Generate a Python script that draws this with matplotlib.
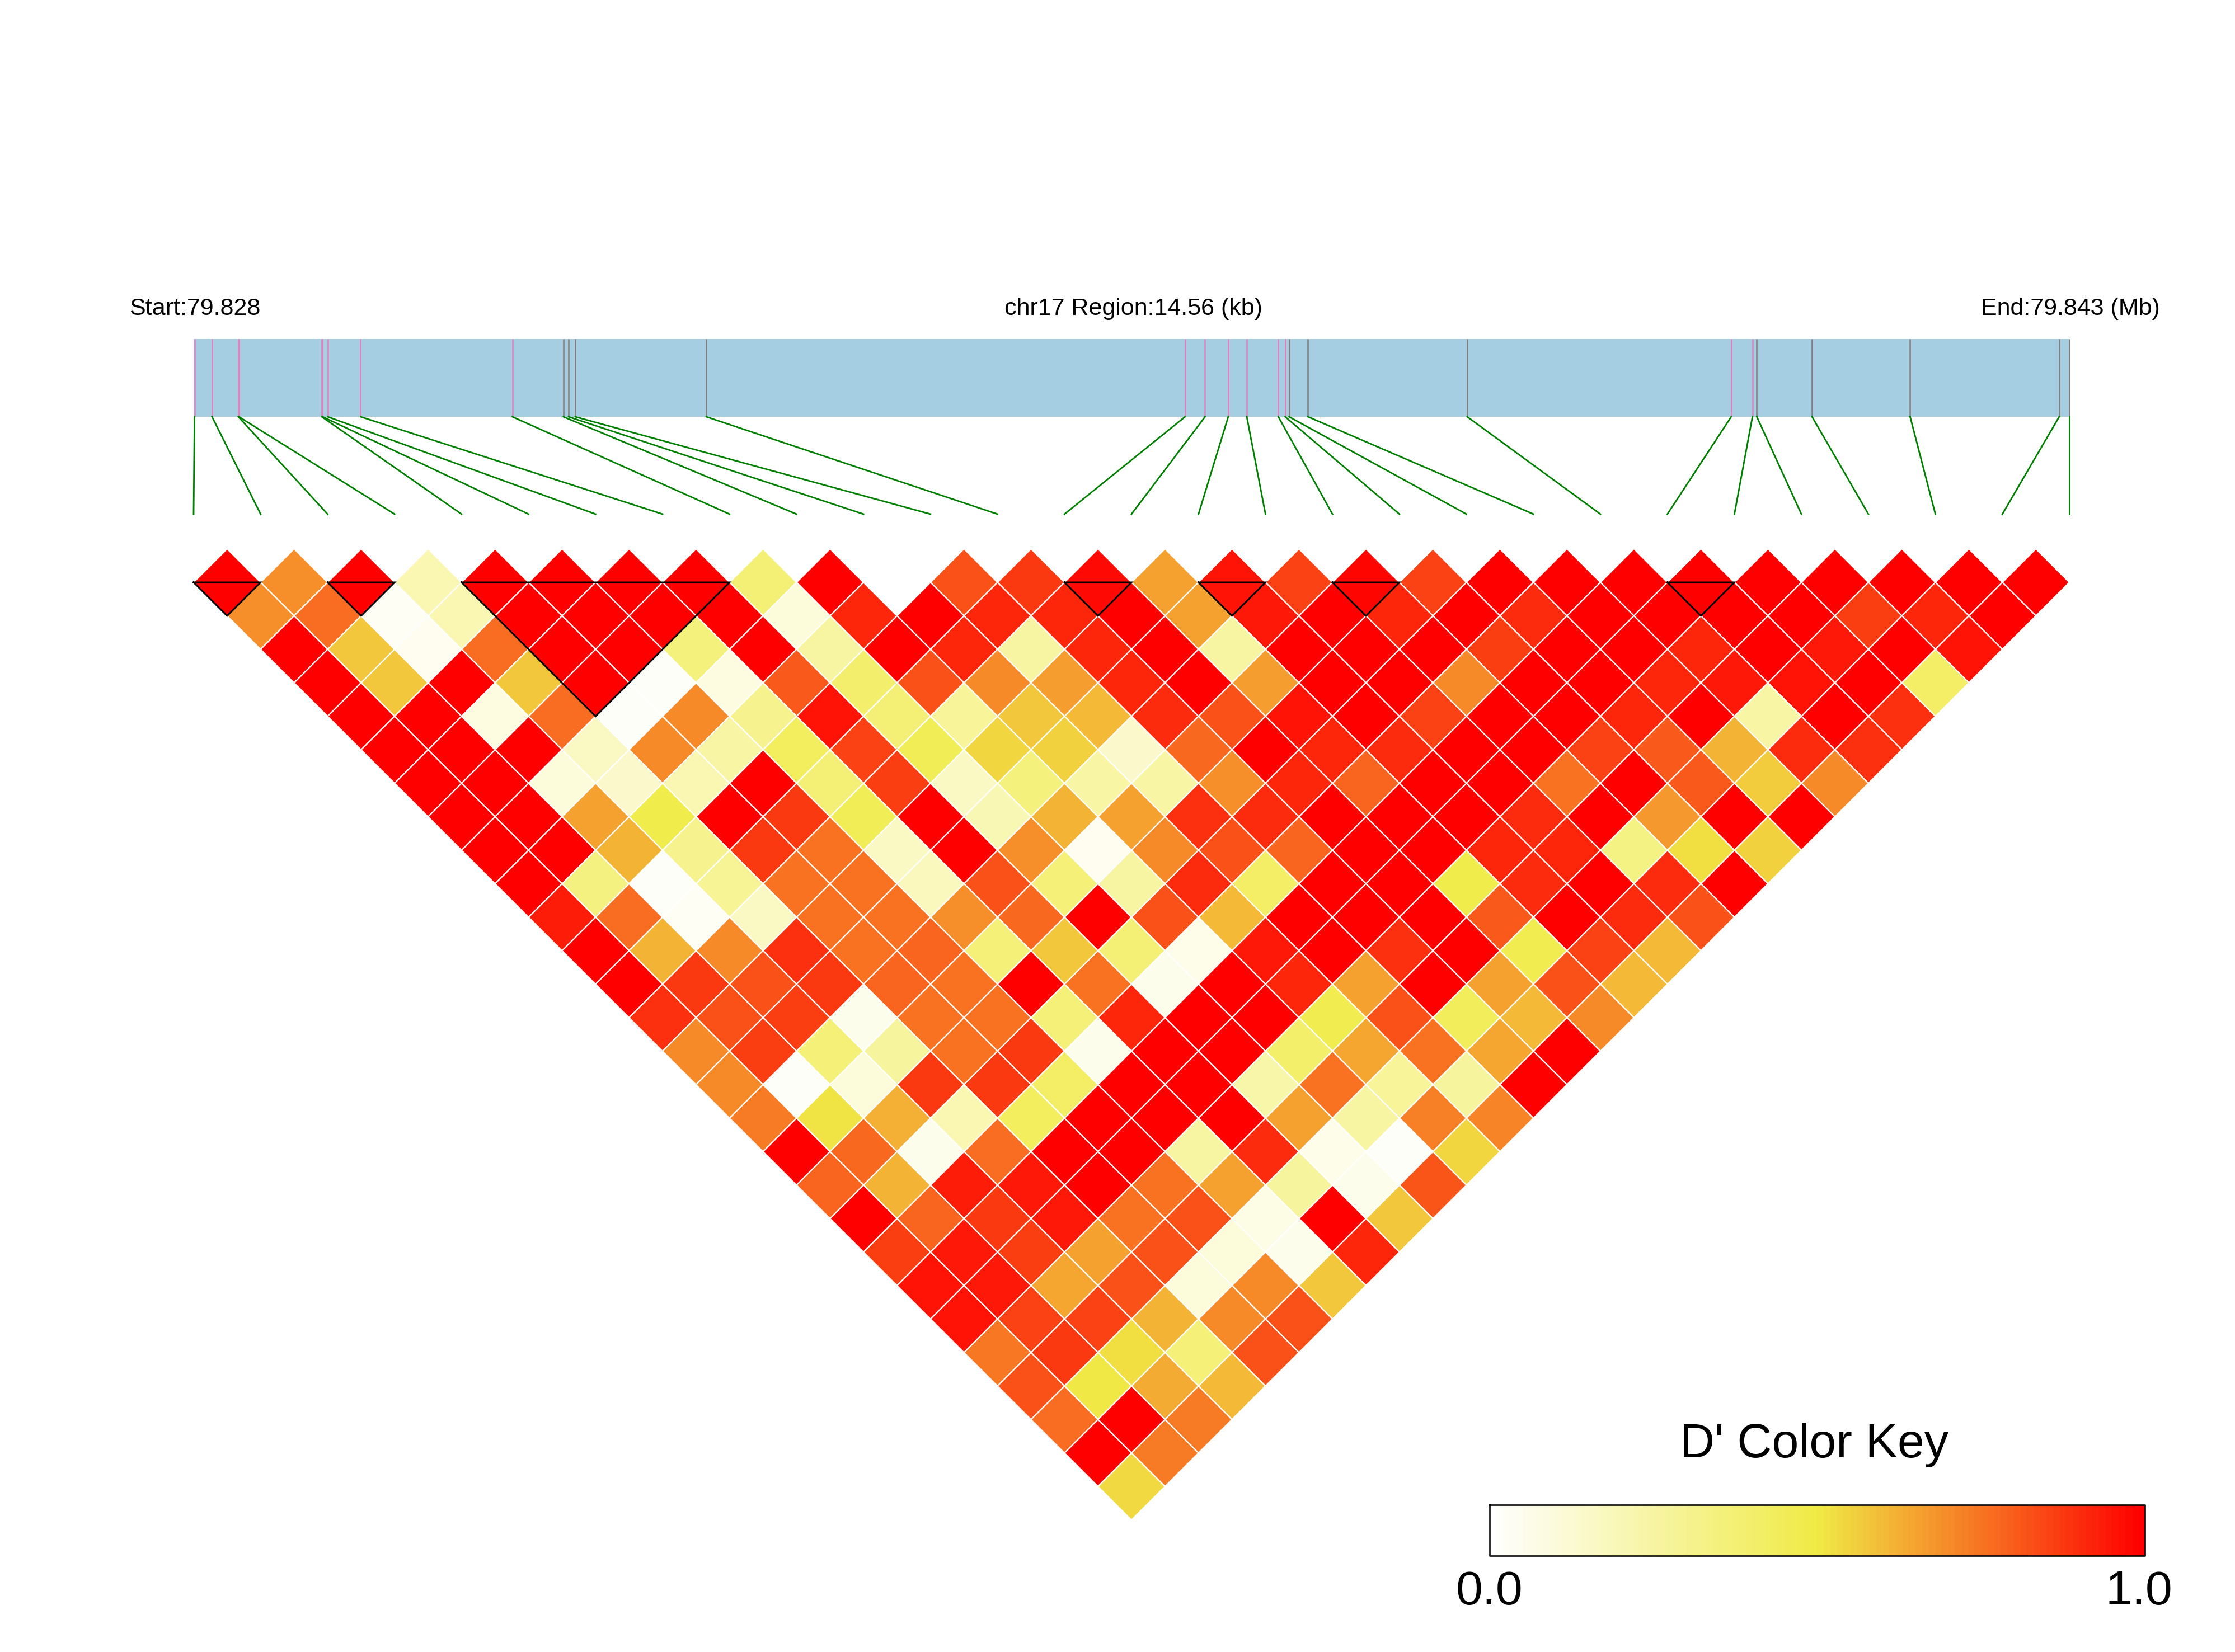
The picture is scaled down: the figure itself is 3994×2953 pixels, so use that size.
import numpy as np
import matplotlib
matplotlib.use('Agg')
import matplotlib.pyplot as plt
from matplotlib.collections import PolyCollection
from matplotlib.colors import LinearSegmentedColormap

plt.rcParams['font.family'] = ['Liberation Sans', 'DejaVu Sans']

# SNP positions along the region (kb from start)
snp_kb = [0.007, 0.143, 0.347, 0.352, 0.995, 1.001, 1.041, 1.296, 2.474, 2.870, 2.910, 2.962, 3.979,
          7.696, 7.851, 8.031, 8.175, 8.420, 8.473, 8.503, 8.650, 9.886,
          11.935, 12.100, 12.134, 12.563, 13.324, 14.481, 14.560]
# 1 = pink tick, 0 = grey tick
snp_pink = [1, 1, 1, 1, 1, 1, 1, 1, 1, 0, 0, 0, 0,
            1, 1, 1, 1, 1, 1, 0, 0, 0,
            1, 1, 0, 0, 0, 0, 0]

# D' values, row_01 is the top row of the triangle (neighbouring SNPs)
row_01 = [1, .69, 1, .21, 1, 1, 1, 1, .37, 1, 0, .825, .87, .97, .65, .955, .85, .985, .85, 1, 1, 1, 1, 1, 1, 1, 1, 1]
row_02 = [.69, .765, .03, .21, 1, 1, 1, 1, .105, .91, 1, .91, .91, 1, .655, .94, 1, .91, 1, .90, 1, 1, 1, 1, .86, .91, 1]
row_03 = [1, .58, .04, .76, 1, 1, .35, 1, .25, 1, .91, .25, .91, 1, .25, 1, 1, 1, .86, 1, 1, .91, 1, .94, 1, .955]
row_04 = [1, .58, 1, .58, 1, .025, .08, .80, .39, .82, .706, .66, .91, 1, .66, 1, 1, .706, 1, 1, .91, .94, .955, 1, .41]
row_05 = [1, 1, .08, .765, .025, .706, .3, .955, .37, .27, .58, .6, .90, .82, .955, 1, .85, 1, 1, .91, 1, .24, 1, .89]
row_06 = [1, 1, 1, .16, .706, .24, .43, .85, .45, .54, .55, .145, .77, 1, .91, .90, 1, 1, .85, .80, .61, .90, .89]
row_07 = [1, 1, .1, .145, .21, 1, .37, .86, .16, .35, .24, .24, .69, .91, .787, 1, 1, .75, 1, .80, .56, .706]
row_08 = [1, 1, .655, .48, 1, .87, .45, 1, .2, .61, .65, .89, .90, 1, 1, 1, .90, 1, .67, 1, 1]
row_09 = [1, 1, .61, .3, .87, .75, .16, 1, .69, .04, .706, .82, .78, 1, 1, .91, .91, .33, .52, .55]
row_10 = [1, .34, .02, .29, .75, .75, .18, .82, .36, .25, .90, .41, 1, 1, .48, .90, 1, .90, 1]
row_11 = [.93, .76, .03, .16, .75, .75, .69, .77, 1, .825, .605, 1, 1, 1, .80, 1, .90, .825]
row_12 = [1, .61, .706, .89, .75, .787, .36, .58, .37, .065, .94, 1, .89, 1, .47, .85, .6]
row_13 = [1, .87, .825, .87, .787, .75, 1, .75, .055, 1, .91, .655, 1, .65, .825, .6]
row_14 = [.89, .825, .86, .05, .75, .75, .36, .91, 1, 1, .47, .825, .44, .6, .706]
row_15 = [.706, .86, .36, .26, .75, .87, .05, 1, 1, .4, .64, .75, .64, 1]
row_16 = [.706, .025, .1, .87, .87, .41, 1, 1, .23, .75, .27, .26, 1]
row_17 = [.735, .51, .62, .21, .43, 1, 1, 1, .655, .25, .725, .715]
row_18 = [1, .77, .055, .76, 1, 1, .25, .90, .065, .025, .54]
row_19 = [.787, .61, .93, .94, 1, .75, .655, .26, .055, .81]
row_20 = [1, .787, .87, .94, .75, .825, .07, 1, .58]
row_21 = [.86, .94, .86, .65, .825, .105, .05, .91]
row_22 = [.955, .94, .64, .825, .105, .706, .58]
row_23 = [.955, .85, .85, .61, .706, .82]
row_24 = [.74, .87, .52, .36, .82]
row_25 = [.825, .5, .63, .6]
row_26 = [.76, 1, .73]
row_27 = [1, .73]
row_28 = [.53]
rows = [row_01, row_02, row_03, row_04, row_05, row_06, row_07, row_08, row_09, row_10,
        row_11, row_12, row_13, row_14, row_15, row_16, row_17, row_18, row_19, row_20,
        row_21, row_22, row_23, row_24, row_25, row_26, row_27, row_28]

# LD blocks as first and last SNP index
blocks = [(0, 1), (2, 3), (4, 8), (13, 14), (15, 16), (17, 18), (22, 23)]

region_kb = 14.56
start_label = 'Start:79.828'
mid_label = 'chr17 Region:14.56 (kb)'
end_label = 'End:79.843 (Mb)'
key_title = "D' Color Key"
key_low = '0.0'
key_high = '1.0'

# Layout in pixels of the output picture
W, H = 3994, 2953
left, right = 346, 3698
step = (right - left) / (len(snp_kb) - 1)
half = step / 2
y_top = 1041
bar_top, bar_bot = 606, 745
link_bot = 919


def px(size):
    return size * 0.72


def kb_to_x(kb):
    return left + kb / region_kb * (right - left)


def snp_x(i):
    return left + i * step


fig = plt.figure(figsize=(W / 100, H / 100), dpi=100)
ax = fig.add_axes([0, 0, 1, 1])
ax.set_xlim(0, W)
ax.set_ylim(H, 0)
ax.axis('off')

cmap = LinearSegmentedColormap.from_list('dprime', [(1, 1, 1), (240 / 255, 235 / 255, 70 / 255), (1, 0, 0)], N=100)

# Gene bar
ax.fill_between([left, right], bar_top, bar_bot, color='#A6CEE3', lw=0, zorder=1)
for i, kb in enumerate(snp_kb):
    x = kb_to_x(kb)
    ax.plot([x, x], [bar_top, bar_bot], color='#DF82BE' if snp_pink[i] else '#808080', lw=px(2.6), zorder=2,
            solid_capstyle='butt')
    ax.plot([x, snp_x(i)], [bar_bot, link_bot], color='#008000', lw=px(2.8), zorder=2)

# LD triangle
polys, vals = [], []
for d, row in enumerate(rows, start=1):
    for k, v in enumerate(row):
        cx = snp_x(k) + half * d
        cy = y_top + (d - 1) * half
        polys.append([(cx - half, cy), (cx, cy - half), (cx + half, cy), (cx, cy + half)])
        vals.append(v)
cells = PolyCollection(polys, array=np.array(vals), cmap=cmap, clim=(0, 1), edgecolors='white', linewidths=px(2.2),
                       zorder=3)
ax.add_collection(cells)

for a, b in blocks:
    xa, xb = snp_x(a), snp_x(b)
    ax.plot([xa, xb, (xa + xb) / 2, xa], [y_top, y_top, y_top + (b - a) * half, y_top], color='black', lw=px(3),
            zorder=4, solid_joinstyle='miter')

# Colour key
key_l, key_r, key_t, key_b = 2662, 3833, 2690, 2781
ax.imshow(np.linspace(0, 1, 100).reshape(1, -1), cmap=cmap, vmin=0, vmax=1, extent=[key_l, key_r, key_b, key_t],
          aspect='auto', interpolation='nearest', zorder=3)
ax.set_xlim(0, W)
ax.set_ylim(H, 0)
ax.plot([key_l, key_r, key_r, key_l, key_l], [key_t, key_t, key_b, key_b, key_t], color='black', lw=px(2.6), zorder=4)

# Text
ax.text(348, 563, start_label, fontsize=px(43), ha='center', va='baseline')
ax.text(2025, 563, mid_label, fontsize=px(43), ha='center', va='baseline')
ax.text(3700, 563, end_label, fontsize=px(43), ha='center', va='baseline')
ax.text(3242, 2605, key_title, fontsize=px(86), ha='center', va='baseline')
ax.text(2662, 2868, key_low, fontsize=px(86), ha='center', va='baseline')
ax.text(3822, 2868, key_high, fontsize=px(86), ha='center', va='baseline')

fig.savefig('out.png', dpi=100, facecolor='white')
